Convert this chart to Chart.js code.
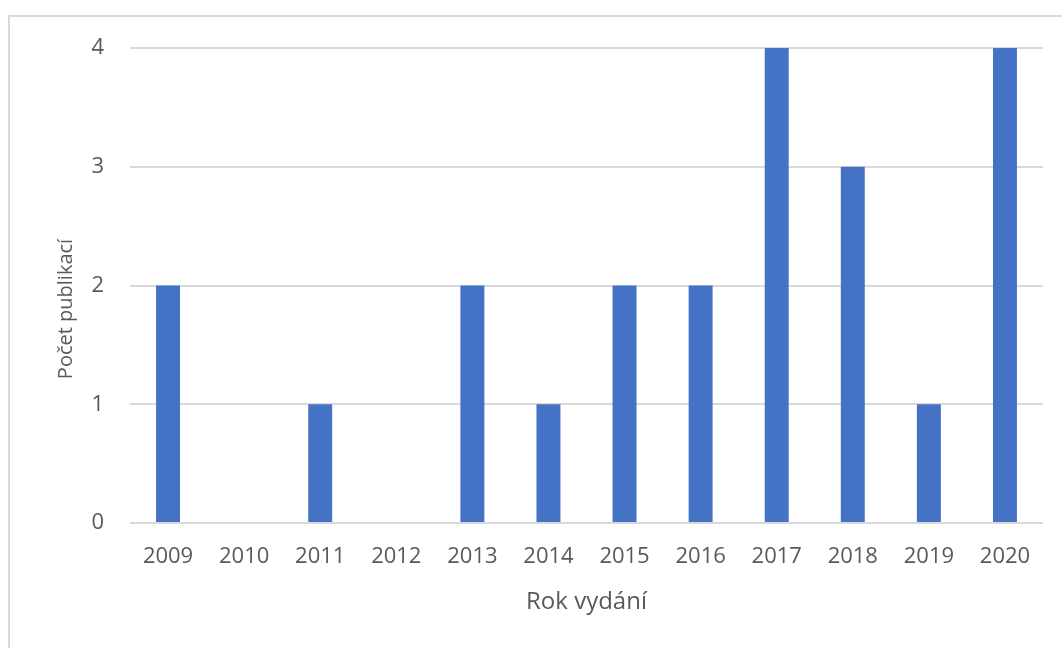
<!DOCTYPE html>
<html>
<head>
<meta charset="utf-8">
<script src="https://cdn.jsdelivr.net/npm/chart.js@4"></script>
<style>
  html, body { margin: 0; padding: 0; background: #fff; }
  #wrap { width: 1062px; height: 648px; position: relative; }
</style>
</head>
<body>
<div id="wrap"><canvas id="graf" width="1062" height="648"></canvas></div>
<script>
var roky = ["2009", "2010", "2011", "2012", "2013", "2014", "2015", "2016", "2017", "2018", "2019", "2020"];
var pocty = [2, 0, 1, 0, 2, 1, 2, 2, 4, 3, 1, 4];
var osaY = [0, 1, 2, 3, 4];
var nazevX = 'Rok vydání';
var nazevY = 'Počet publikací';

var seda = "#595959";
var rodina = "'Open Sans', sans-serif";

// ramecek kolem grafu + popisek osy Y (v Excelu je posunuty dolu)
var ramecek = {
	id: 'ramecek',
	beforeDraw: function(chart) {
		var c = chart.ctx;
		c.save();
		c.strokeStyle = "#d9d9d9";
		c.lineWidth = 2;
		c.strokeRect(9, 16, 1100, 700);
		c.restore();
	},
	afterDraw: function(chart) {
		var c = chart.ctx;
		c.save();
		c.translate(66, 309);
		c.rotate(-Math.PI / 2);
		c.fillStyle = seda;
		c.font = "20px " + rodina;
		c.textAlign = "center";
		c.textBaseline = "middle";
		c.fillText(nazevY, 0, 0);
		c.restore();
	}
};

var ctx = document.getElementById("graf");
var graf = new Chart(ctx, {
	type: 'bar',
	data: {
		labels: roky,
		datasets: [{
			label: nazevY,
			data: pocty,
			backgroundColor: "#4472c4",
			barPercentage: 1,
			categoryPercentage: 0.315
		}]
	},
	plugins: [ramecek],
	options: {
		responsive: false,
		animation: false,
		layout: { padding: { left: 0, right: 19, top: 48, bottom: 0 } },
		plugins: {
			legend: { display: false },
			tooltip: { enabled: false }
		},
		scales: {
			x: {
				grid: { display: false, drawTicks: false },
				border: { display: false },
				ticks: { color: seda, font: { family: rodina, size: 22 }, padding: 21, maxRotation: 0 },
				title: { display: true, text: nazevX, color: seda, font: { family: rodina, size: 24 }, padding: { top: 0, bottom: 31 } },
				afterFit: function(s) { s.height = 125; }
			},
			y: {
				min: 0,
				max: 4,
				afterBuildTicks: function(s) { s.ticks = osaY.map(function(v) { return { value: v }; }); },
				grid: { color: "#d9d9d9", lineWidth: 2, drawTicks: false },
				border: { display: false },
				ticks: { color: seda, font: { family: rodina, size: 22 }, padding: 26 },
				title: { display: false },
				afterFit: function(s) { s.width = 130; }
			}
		}
	}
});
</script>
</body>
</html>
